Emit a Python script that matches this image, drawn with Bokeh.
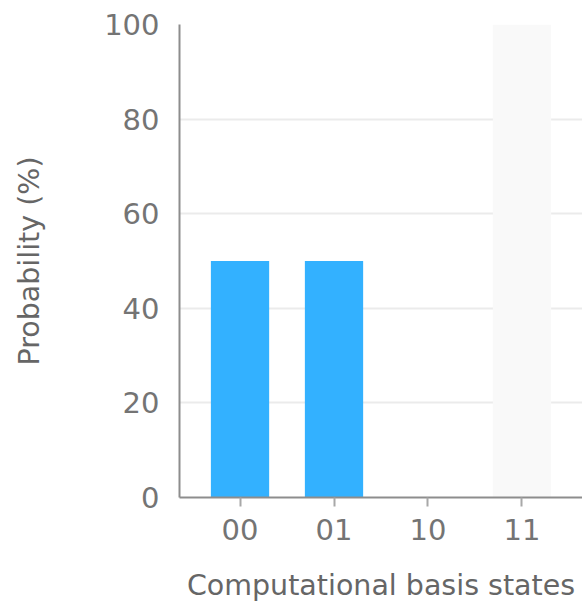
from bokeh.plotting import figure
from bokeh.models import FactorRange, Range1d, ColumnDataSource
from bokeh.embed import file_html
from bokeh.resources import INLINE

states = ["00", "01", "10", "11"]
probabilities = [50, 50, 0, 0]
highlighted = ["11"]
y_ticks = [0, 20, 40, 60, 80, 100]

FONT = "DejaVu Sans"
TEXT = "#747474"

p = figure(width=582, height=606, output_backend="svg", toolbar_location=None,
           x_range=FactorRange(*states, range_padding=0.072),
           y_range=Range1d(0, 100),
           min_border_left=179, min_border_right=0, min_border_top=24, min_border_bottom=109)
p.outline_line_color = None

# hover highlight band
band = ColumnDataSource(dict(x=highlighted, top=[100] * len(highlighted)))
p.vbar(x="x", top="top", width=0.62, source=band, fill_color="#f9f9f9", line_color=None)

src = ColumnDataSource(dict(x=states, top=probabilities))
p.vbar(x="x", top="top", width=0.62, source=src, fill_color="#33b1ff", line_color=None)

p.xgrid.grid_line_color = None
p.ygrid.grid_line_color = "#ebebeb"
p.ygrid.grid_line_width = 2
p.yaxis.ticker = y_ticks

for ax in (p.xaxis[0], p.yaxis[0]):
    ax.axis_line_color = "#8d8d8d"
    ax.axis_line_width = 2
    ax.major_label_text_font = FONT
    ax.major_label_text_font_size = "29px"
    ax.major_label_text_color = TEXT
    ax.axis_label_text_font = FONT
    ax.axis_label_text_font_size = "28.5px"
    ax.axis_label_text_font_style = "normal"
    ax.axis_label_text_color = "#666666"
    ax.minor_tick_line_color = None

p.yaxis.major_tick_line_color = None
p.yaxis.major_tick_out = 0
p.yaxis.major_tick_in = 0
p.yaxis.major_label_standoff = 20
p.yaxis.axis_label = "Probability (%)"
p.yaxis.axis_label_standoff = 55

p.xaxis.major_tick_line_color = "#a8a8a8"
p.xaxis.major_tick_line_width = 2
p.xaxis.major_tick_in = 0
p.xaxis.major_tick_out = 9
p.xaxis.major_label_standoff = 12
p.xaxis.axis_label = "Computational basis states"
p.xaxis.axis_label_standoff = 26

open("out.html", "w").write(file_html(p, INLINE))
